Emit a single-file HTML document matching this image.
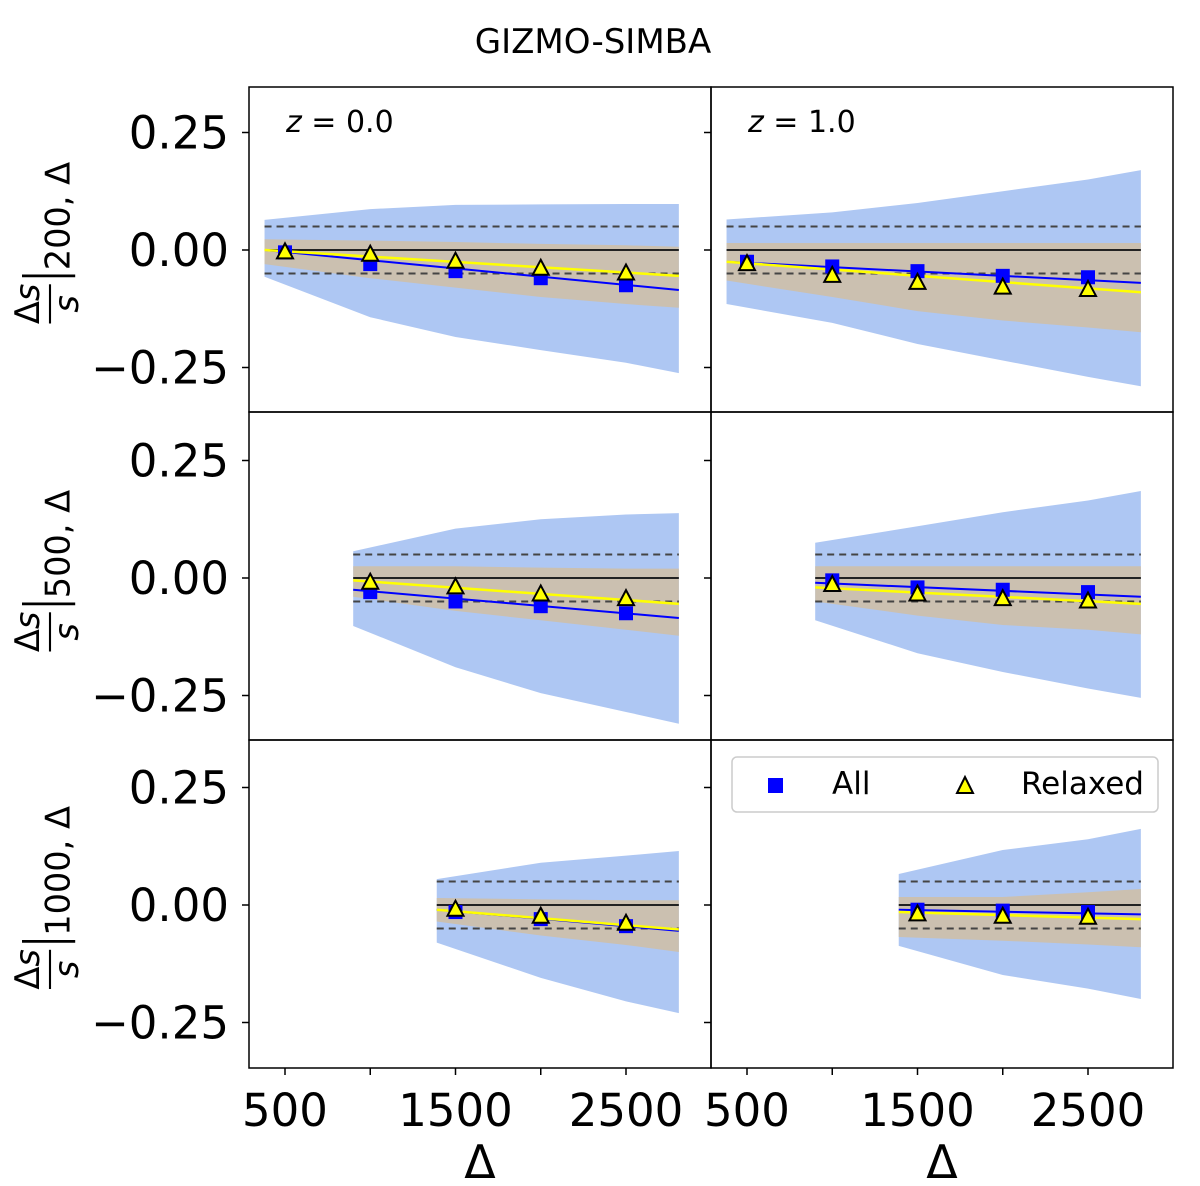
<!DOCTYPE html>
<html><head><meta charset="utf-8"><style>
body{margin:0;background:#fff}
svg{display:block;font-family:"DejaVu Sans","Liberation Sans",sans-serif}
</style></head><body>
<svg id="c" width="1200" height="1186" viewBox="0 0 1200 1186" xmlns="http://www.w3.org/2000/svg">
<text x="593" y="53" font-size="34" text-anchor="middle">GIZMO-SIMBA</text>
</svg>
<script>
const xTicks=[500,1500,2500];
const xMinorTicks=[500,1000,1500,2000,2500];
const yTicks=[0.25,0,-0.25];
const yTickLabels=["0.25","0.00","\u22120.25"];
const pointX=[500,1000,1500,2000,2500];
const rowLabels=["200","500","1000"];
const zLabels=["z = 0.0","z = 1.0"];
const bandX=[[[380,1000,1500,2000,2500,2810],[380,1000,1500,2000,2500,2810]],
 [[900,1500,2000,2500,2810],[900,1500,2000,2500,2810]],
 [[1390,2000,2500,2810],[1390,2000,2500,2810]]];
const blueUp=[[[0.064,0.087,0.096,0.097,0.098,0.098],[0.065,0.08,0.1,0.125,0.15,0.17]],
 [[0.057,0.105,0.125,0.135,0.138],[0.075,0.11,0.14,0.165,0.185]],
 [[0.055,0.09,0.105,0.115],[0.066,0.117,0.14,0.162]]];
const blueLo=[[[-0.057,-0.143,-0.185,-0.213,-0.24,-0.262],[-0.115,-0.155,-0.2,-0.235,-0.27,-0.29]],
 [[-0.102,-0.19,-0.245,-0.285,-0.31],[-0.09,-0.16,-0.2,-0.235,-0.255]],
 [[-0.08,-0.155,-0.205,-0.23],[-0.087,-0.149,-0.178,-0.2]]];
const tanUp=[[[0.023,0.02,0.017,0.013,0.01,0.007],[0.015,0.015,0.015,0.015,0.015,0.015]],
 [[0.025,0.025,0.022,0.02,0.02],[0.025,0.025,0.025,0.025,0.025]],
 [[0.015,0.012,0.01,0.01],[0.017,0.017,0.027,0.034]]];
const tanLo=[[[-0.03,-0.06,-0.08,-0.1,-0.115,-0.123],[-0.065,-0.1,-0.13,-0.15,-0.165,-0.175]],
 [[-0.04,-0.07,-0.09,-0.11,-0.123],[-0.05,-0.08,-0.1,-0.11,-0.12]],
 [[-0.035,-0.065,-0.085,-0.1],[-0.068,-0.076,-0.084,-0.09]]];
const allY=[[[-0.005,-0.03,-0.045,-0.06,-0.075],[-0.025,-0.035,-0.045,-0.055,-0.058]],
 [[null,-0.03,-0.05,-0.06,-0.075],[null,-0.005,-0.02,-0.025,-0.03]],
 [[null,null,-0.015,-0.03,-0.045],[null,null,-0.01,-0.012,-0.015]]];
const relY=[[[-0.005,-0.01,-0.025,-0.04,-0.05],[-0.03,-0.055,-0.07,-0.08,-0.085]],
 [[null,-0.01,-0.02,-0.035,-0.045],[null,-0.015,-0.035,-0.045,-0.05]],
 [[null,null,-0.01,-0.025,-0.04],[null,null,-0.02,-0.025,-0.027]]];
const fitAll=[[[0,-0.085],[-0.025,-0.07]],[[-0.025,-0.085],[-0.01,-0.04]],[[-0.01,-0.055],[-0.01,-0.02]]];
const fitRel=[[[0,-0.055],[-0.025,-0.09]],[[-0.005,-0.055],[-0.02,-0.055]],[[-0.01,-0.052],[-0.015,-0.03]]];

const svg=document.getElementById('c');
const NS="http://www.w3.org/2000/svg";
function mk(t,a,p){const e=document.createElementNS(NS,t);for(const k in a)e.setAttribute(k,a[k]);(p||svg).appendChild(e);return e;}
const colX=[249,711],W=462,rowY=[87,412,740],H=[325,328,328];
function xs(c,v){return colX[c]+36+(v-500)*0.1705;}
function ys(r,v){const z=[250,578,905][r];return z-v*470;}

for(let r=0;r<3;r++)for(let c=0;c<2;c++){
 const g=mk('g',{});
 
 
 const bx=bandX[r][c];
 let pts=bx.map((x,i)=>xs(c,x)+','+ys(r,blueUp[r][c][i]));
 pts=pts.concat(bx.map((x,i)=>xs(c,x)+','+ys(r,blueLo[r][c][i])).reverse());
 const b=mk('polygon',{points:pts.join(' '),fill:'#aec7f3'},g);
 
 
 pts=bx.map((x,i)=>xs(c,x)+','+ys(r,tanUp[r][c][i]));
 pts=pts.concat(bx.map((x,i)=>xs(c,x)+','+ys(r,tanLo[r][c][i])).reverse());
 const t=mk('polygon',{points:pts.join(' '),fill:'#cbc0b0'},g);
 
 
 const x0=xs(c,bx[0]),x1=xs(c,bx[bx.length-1]);
 for(const d of [0.05,-0.05]){const l=mk('line',{x1:x0,x2:x1,y1:ys(r,d),y2:ys(r,d),stroke:'#444',"stroke-width":2,"stroke-dasharray":"7,5"},g);
  
  }
 const zl=mk('line',{x1:x0,x2:x1,y1:ys(r,0),y2:ys(r,0),stroke:'#222',"stroke-width":2},g);
 
 
 const fa=mk('line',{x1:x0,x2:x1,y1:ys(r,fitAll[r][c][0]),y2:ys(r,fitAll[r][c][1]),stroke:'#0000ff',"stroke-width":2},g);
 
 
 const fr=mk('line',{x1:x0,x2:x1,y1:ys(r,fitRel[r][c][0]),y2:ys(r,fitRel[r][c][1]),stroke:'#ffff00',"stroke-width":2.5},g);
 
 
 pointX.forEach((x,i)=>{
  const v=allY[r][c][i];if(v===null)return;
  const s=mk('rect',{x:xs(c,x)-7,y:ys(r,v)-7,width:14,height:14,fill:'#0000ff'},g);
  
  
 });
 pointX.forEach((x,i)=>{
  const v=relY[r][c][i];if(v===null)return;
  const px=xs(c,x),py=ys(r,v);
  const tr=mk('polygon',{points:`${px},${py-9} ${px-8},${py+6} ${px+8},${py+6}`,fill:'#ffff00',stroke:'#000',"stroke-width":2},g);
  
  
 });
 const fr2=mk('rect',{x:colX[c],y:rowY[r],width:W,height:H[r],fill:'none',stroke:'#000',"stroke-width":1.5},g);
 
 
 yTicks.forEach((v,i)=>{
  const tk=mk('line',{x1:colX[c]-7,x2:colX[c],y1:ys(r,v),y2:ys(r,v),stroke:'#000',"stroke-width":1.5},g);
  
  
  if(c===0){const tl=mk('text',{x:229,y:ys(r,v)+16,"font-size":45,"text-anchor":"end"},g);tl.textContent=yTickLabels[i];
   
   }
 });
 if(r===2){xMinorTicks.forEach(v=>{const tk=mk('line',{x1:xs(c,v),x2:xs(c,v),y1:1068,y2:1075,stroke:'#000',"stroke-width":1.5},g);
   
   });
  xTicks.forEach(v=>{const tl=mk('text',{x:xs(c,v),y:1126,"font-size":45,"text-anchor":"middle"},g);tl.textContent=String(v);
   
   });
  const xt=mk('text',{x:colX[c]+W/2,y:1178,"font-size":46,"text-anchor":"middle"},g);xt.textContent='Δ';
  
  }
 if(r===0){const zt=mk('text',{x:colX[c]+37,y:132,"font-size":30},g);
  zt.innerHTML='<tspan font-style="italic">z</tspan> = '+zLabels[c].split('= ')[1];
  
  }
}
rowLabels.forEach((lab,r)=>{
 const cy=[250,578,905][r];
 const g=mk('g',{transform:`translate(50,${cy}) rotate(-90) scale(1.4)`});
 
 
 const w=60+lab.length*15;
 const x0=-w/2;
 const n=mk('text',{x:x0+14,y:-8,"font-size":24,"text-anchor":"middle"},g);n.innerHTML='Δ<tspan font-style="italic">s</tspan>';
 mk('line',{x1:x0,x2:x0+28,y1:0,y2:0,stroke:'#000',"stroke-width":1.5},g);
 const d=mk('text',{x:x0+14,y:20,"font-size":24,"text-anchor":"middle","font-style":"italic"},g);d.textContent='s';
 mk('line',{x1:x0+34,x2:x0+34,y1:-20,y2:18,stroke:'#000',"stroke-width":2},g);
 const sb=mk('text',{x:x0+38,y:14,"font-size":24},g);sb.textContent=lab+', Δ';
});
const lg=mk('g',{});


mk('rect',{x:732,y:757,width:426,height:55,rx:5,fill:'#fff',stroke:'#ccc',"stroke-width":1.5},lg);
const ls=mk('rect',{x:768,y:778,width:15,height:15,fill:'#0000ff'},lg);


const lt1=mk('text',{x:832,y:794,"font-size":31},lg);lt1.textContent='All';
const ltr=mk('polygon',{points:'965,777 957,793 973,793',fill:'#ffff00',stroke:'#000',"stroke-width":2},lg);


const lt2=mk('text',{x:1021,y:794,"font-size":31},lg);lt2.textContent='Relaxed';
</script>
</body></html>
